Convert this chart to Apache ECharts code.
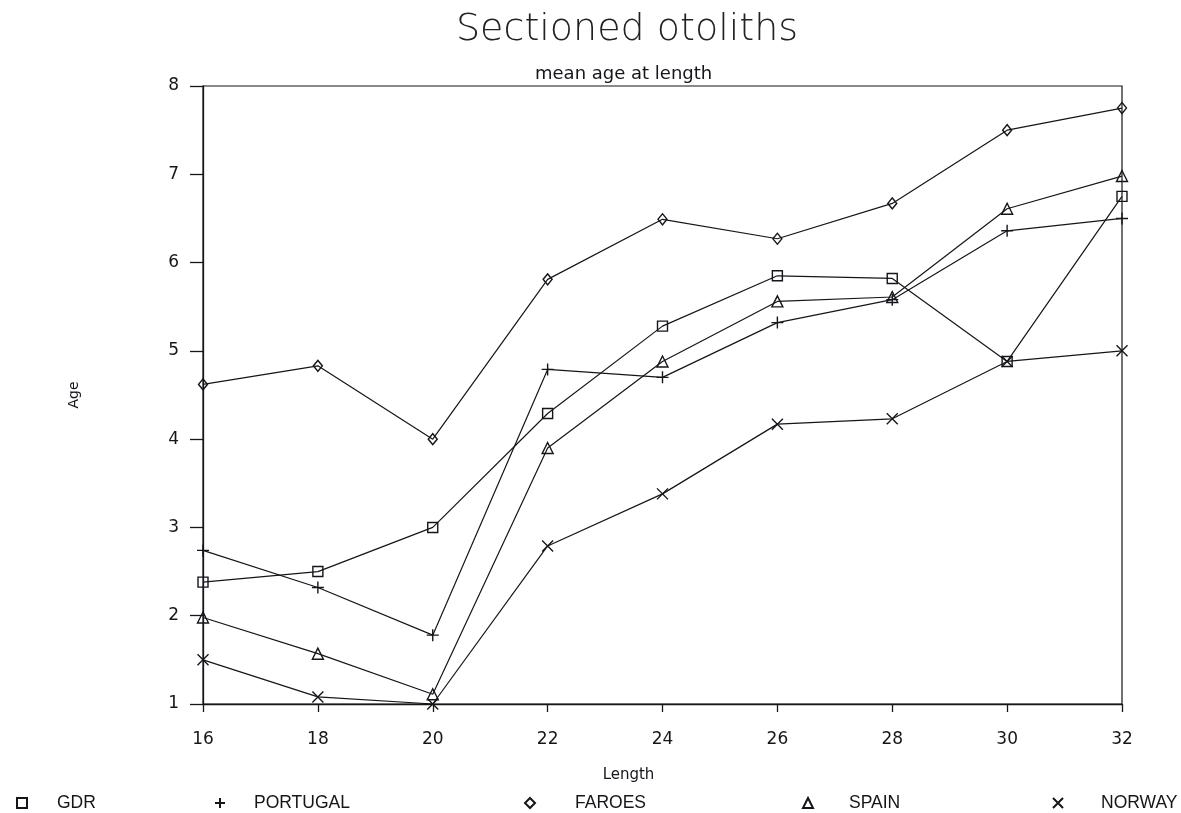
<!DOCTYPE html>
<html>
<head>
<meta charset="utf-8">
<script src="https://cdn.jsdelivr.net/npm/echarts@6/dist/echarts.min.js"></script>
<style>
html,body{margin:0;padding:0;background:#fff;}
#chart{width:1181px;height:813px;}
</style>
</head>
<body>
<div id="chart"></div>
<script>
const lengths = [16, 18, 20, 22, 24, 26, 28, 30, 32];
const gdr      = [2.38, 2.50, 3.00, 4.29, 5.28, 5.85, 5.82, 4.88, 6.75];
const portugal = [2.74, 2.32, 1.78, 4.79, 4.70, 5.32, 5.58, 6.36, 6.50];
const faroes   = [4.62, 4.83, 4.00, 5.81, 6.49, 6.27, 6.67, 7.50, 7.75];
const spain    = [1.98, 1.57, 1.11, 3.90, 4.88, 5.56, 5.61, 6.61, 6.98];
const norway   = [1.50, 1.08, 1.00, 2.79, 3.38, 4.17, 4.23, 4.88, 5.00];
const seriesNames = ['GDR', 'PORTUGAL', 'FAROES', 'SPAIN', 'NORWAY'];

const INK = '#15151c';
const PLUS = 'path://M5,0L5,10M0,5L10,5';
const CROSS = 'path://M0,0L10,10M10,0L0,10';

function pairs(vals){ return lengths.map((x,i)=>[x, vals[i]]); }

const seriesDefs = [
  {name:'GDR', data:gdr, symbol:'rect', size:10},
  {name:'PORTUGAL', data:portugal, symbol:PLUS, size:12},
  {name:'FAROES', data:faroes, symbol:'diamond', size:[9,11]},
  {name:'SPAIN', data:spain, symbol:'triangle', size:11},
  {name:'NORWAY', data:norway, symbol:CROSS, size:11}
];

const legendPos = [
  {icon:'rect', left:11, pad:25},
  {icon:PLUS, left:209, pad:24},
  {icon:'diamond', left:519, pad:35},
  {icon:'triangle', left:797, pad:31},
  {icon:CROSS, left:1047, pad:33}
];

const chart = echarts.init(document.getElementById('chart'));
chart.setOption({
  backgroundColor:'#fff',
  animation:false,
  title:[
    {text:'Sectioned otoliths', left:451, top:6,
     textStyle:{fontFamily:'DejaVu Sans', fontSize:38, fontWeight:200, color:'#222'}},
    {text:'mean age at length', left:530, top:60,
     textStyle:{fontFamily:'DejaVu Sans', fontSize:18, fontWeight:'normal', color:INK}}
  ],
  legend: seriesNames.map((n,i)=>({
    data:[{name:n, icon:legendPos[i].icon}],
    left:legendPos[i].left, top:789,
    itemWidth:10, itemHeight:10,
    selectedMode:false,
    textStyle:{fontFamily:'Liberation Sans', fontSize:17.5, color:INK, padding:[0,0,0,legendPos[i].pad]}
  })),
  grid:{left:203, right:59, top:86, bottom:109, show:true, borderColor:INK, borderWidth:1.2},
  xAxis:{
    type:'value', min:16, max:32, interval:2,
    name:'Length', nameLocation:'middle', nameGap:64,
    nameTextStyle:{fontFamily:'DejaVu Sans', fontSize:15, color:INK, padding:[0,68,0,0]},
    axisLine:{show:true, lineStyle:{color:INK, width:1.3}},
    axisTick:{show:true, inside:false, length:8, lineStyle:{color:INK, width:1.3}},
    axisLabel:{margin:27, fontFamily:'DejaVu Sans', fontSize:17, color:INK},
    splitLine:{show:false}
  },
  yAxis:{
    type:'value', min:1, max:8, interval:1,
    name:'Age', nameLocation:'middle', nameGap:122, nameRotate:90,
    nameTextStyle:{fontFamily:'DejaVu Sans', fontSize:14, color:INK},
    axisLine:{show:true, lineStyle:{color:INK, width:1.3}},
    axisTick:{show:true, inside:false, length:13, lineStyle:{color:INK, width:1.3}},
    axisLabel:{margin:24, fontFamily:'DejaVu Sans', fontSize:17, color:INK},
    splitLine:{show:false}
  },
  series: seriesDefs.map(s=>({
    name:s.name, type:'line', data:pairs(s.data),
    symbol:s.symbol, symbolSize:s.size, showAllSymbol:true,
    lineStyle:{color:INK, width:1.2},
    itemStyle:{color:'rgba(255,255,255,0)', borderColor:INK, borderWidth:1.4},
    emphasis:{disabled:true}
  }))
});
</script>
</body>
</html>
